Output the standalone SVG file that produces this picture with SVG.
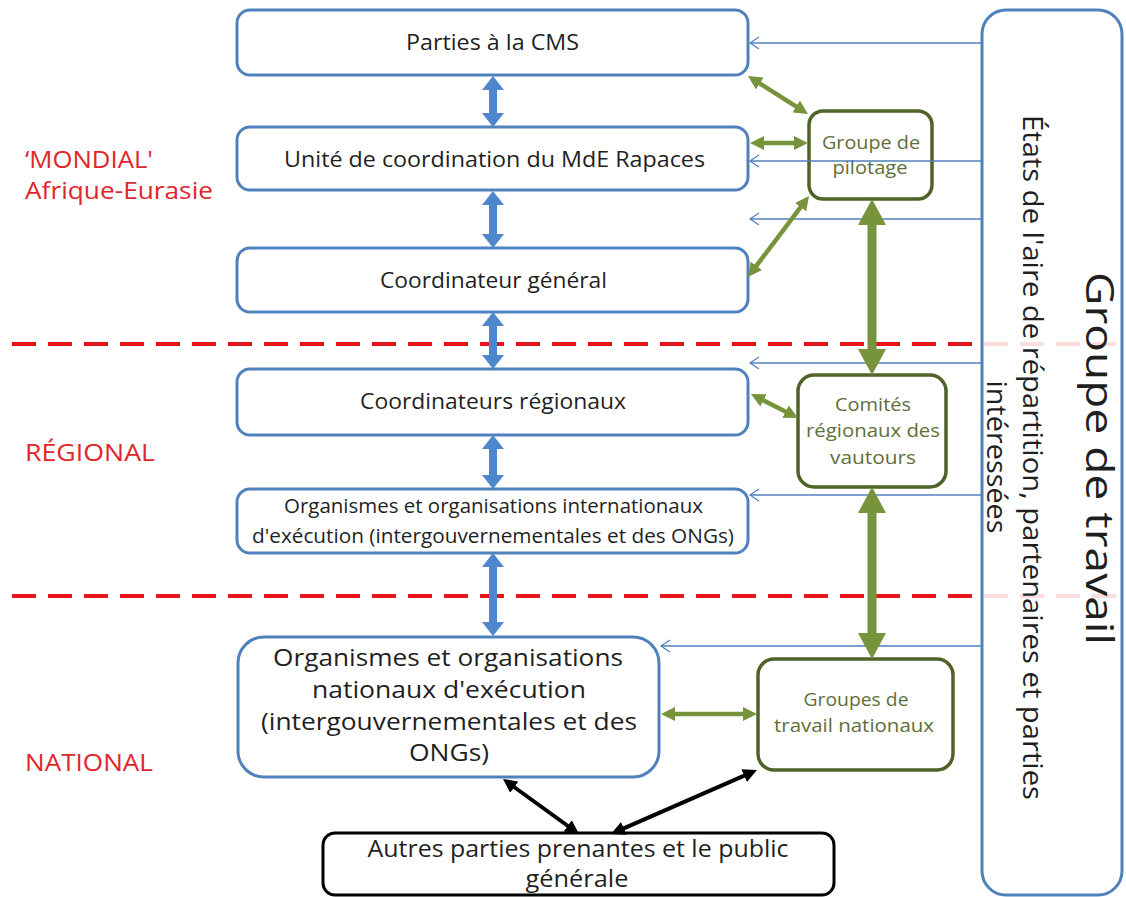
<svg xmlns="http://www.w3.org/2000/svg" width="1126" height="897" viewBox="0 0 1126 897">
<style>
.bx{fill:#fff;stroke:#4f81bd;stroke-width:3}
.gb{fill:#fff;stroke:#4f6228;stroke-width:3.5}
.kb{fill:#fff;stroke:#000;stroke-width:3}
text{font-family:"Open Sans","Liberation Sans",sans-serif}
.t{fill:#1f1f1f}
.gt{fill:#5f6f3a}
.rt{fill:#e0262a}
.thin{stroke:#4f81bd;stroke-width:1.3;fill:none;marker-end:url(#open)}
.ga{stroke:#77933c;stroke-width:4.5;marker-start:url(#gh);marker-end:url(#gh)}
.ka{stroke:#000;stroke-width:4;marker-start:url(#kh);marker-end:url(#kh)}
.ba{fill:#4f87cf}
.gba{fill:#77933c}
.dash{stroke:#e8141b;stroke-width:4;stroke-dasharray:24 12;fill:none}
</style>
<defs>
<marker id="gh" viewBox="0 0 14 14" refX="2" refY="7" markerWidth="14" markerHeight="14" markerUnits="userSpaceOnUse" orient="auto-start-reverse"><path d="M0,0 L14,7 L0,14 z" fill="#77933c"/></marker>
<marker id="kh" viewBox="0 0 14 14" refX="2" refY="7" markerWidth="14" markerHeight="14" markerUnits="userSpaceOnUse" orient="auto-start-reverse"><path d="M0,0 L14,7 L0,14 z" fill="#000"/></marker>
<marker id="open" viewBox="-10 -7 12 14" refX="0" refY="0" markerWidth="12" markerHeight="14" markerUnits="userSpaceOnUse" orient="auto"><path d="M-9,-6 L0,0 L-9,6" fill="none" stroke="#4f81bd" stroke-width="1.2"/></marker>
</defs>

<g id="level-lines">
<line class="dash" x1="12" y1="344" x2="1126" y2="344"/>
<line class="dash" x1="12" y1="596" x2="1126" y2="596"/>
</g>

<g id="groupe-travail">
<rect x="982" y="10" width="140" height="885" rx="24" fill="#fff" fill-opacity="0.86" stroke="#4f81bd" stroke-width="3"/>
<text class="t" transform="translate(1086,458.5) rotate(90)" text-anchor="middle" font-size="38" textLength="373" lengthAdjust="spacingAndGlyphs">Groupe de travail</text>
<text class="t" transform="translate(1023,457.5) rotate(90)" text-anchor="middle" font-size="27" textLength="685" lengthAdjust="spacingAndGlyphs">États de l'aire de répartition, partenaires et parties</text>
<text class="t" transform="translate(987,457) rotate(90)" text-anchor="middle" font-size="27" textLength="153" lengthAdjust="spacingAndGlyphs">intéressées</text>
</g>

<g id="labels">
<text class="rt" x="25" y="168" font-size="24" textLength="128" lengthAdjust="spacingAndGlyphs">‘MONDIAL'</text>
<text class="rt" x="25" y="199" font-size="24" textLength="188" lengthAdjust="spacingAndGlyphs">Afrique-Eurasie</text>
<text class="rt" x="25" y="461" font-size="24" textLength="130" lengthAdjust="spacingAndGlyphs">RÉGIONAL</text>
<text class="rt" x="25" y="771" font-size="24" textLength="128" lengthAdjust="spacingAndGlyphs">NATIONAL</text>
</g>

<g id="parties-cms">
<rect class="bx" x="237" y="10" width="511" height="65" rx="13"/>
<text class="t" x="492.5" y="50" font-size="22" text-anchor="middle" textLength="173" lengthAdjust="spacingAndGlyphs">Parties à la CMS</text>
</g>
<g id="unite-coordination">
<rect class="bx" x="237" y="127" width="511" height="63" rx="13"/>
<text class="t" x="494.5" y="167" font-size="22" text-anchor="middle" textLength="421" lengthAdjust="spacingAndGlyphs">Unité de coordination du MdE Rapaces</text>
</g>
<g id="coordinateur-general">
<rect class="bx" x="237" y="248" width="511" height="64" rx="13"/>
<text class="t" x="493.5" y="288" font-size="22" text-anchor="middle" textLength="227" lengthAdjust="spacingAndGlyphs">Coordinateur général</text>
</g>
<g id="coordinateurs-regionaux">
<rect class="bx" x="237" y="369" width="511" height="66" rx="13"/>
<text class="t" x="493" y="409" font-size="22" text-anchor="middle" textLength="266" lengthAdjust="spacingAndGlyphs">Coordinateurs  régionaux</text>
</g>
<g id="organismes-internationaux">
<rect class="bx" x="237" y="489" width="511" height="64" rx="13"/>
<text class="t" x="493.5" y="513" font-size="20.5" text-anchor="middle" textLength="419" lengthAdjust="spacingAndGlyphs">Organismes et organisations internationaux</text>
<text class="t" x="493" y="543" font-size="20.5" text-anchor="middle" textLength="482" lengthAdjust="spacingAndGlyphs">d'exécution (intergouvernementales et des ONGs)</text>
</g>
<g id="organismes-nationaux">
<rect class="bx" x="238" y="637" width="421" height="140" rx="26"/>
<text class="t" x="448" y="666" font-size="24.5" text-anchor="middle" textLength="350" lengthAdjust="spacingAndGlyphs">Organismes et organisations</text>
<text class="t" x="449" y="698" font-size="24.5" text-anchor="middle" textLength="274" lengthAdjust="spacingAndGlyphs">nationaux d'exécution</text>
<text class="t" x="449" y="730" font-size="24.5" text-anchor="middle" textLength="376" lengthAdjust="spacingAndGlyphs">(intergouvernementales et des</text>
<text class="t" x="449" y="761" font-size="24.5" text-anchor="middle" textLength="80" lengthAdjust="spacingAndGlyphs">ONGs)</text>
</g>
<g id="autres-parties">
<rect class="kb" x="323" y="833" width="511" height="62" rx="12"/>
<text class="t" x="578" y="857" font-size="24" text-anchor="middle" textLength="421" lengthAdjust="spacingAndGlyphs">Autres parties prenantes et le public</text>
<text class="t" x="577" y="887" font-size="24" text-anchor="middle" textLength="103" lengthAdjust="spacingAndGlyphs">générale</text>
</g>

<g id="groupe-pilotage">
<rect class="gb" x="809" y="111" width="123" height="88" rx="14"/>
<text class="gt" x="871" y="149" font-size="19" text-anchor="middle" textLength="98" lengthAdjust="spacingAndGlyphs">Groupe de</text>
<text class="gt" x="870" y="174" font-size="19" text-anchor="middle" textLength="75" lengthAdjust="spacingAndGlyphs">pilotage</text>
</g>
<g id="comites-regionaux">
<rect class="gb" x="798" y="375" width="148" height="112" rx="16"/>
<text class="gt" x="873" y="411" font-size="19" text-anchor="middle" textLength="76" lengthAdjust="spacingAndGlyphs">Comités</text>
<text class="gt" x="873" y="437" font-size="19" text-anchor="middle" textLength="134" lengthAdjust="spacingAndGlyphs">régionaux des</text>
<text class="gt" x="873" y="464" font-size="19" text-anchor="middle" textLength="86" lengthAdjust="spacingAndGlyphs">vautours</text>
</g>
<g id="groupes-nationaux">
<rect class="gb" x="758" y="659" width="195" height="111" rx="16"/>
<text class="gt" x="856" y="706" font-size="19" text-anchor="middle" textLength="105" lengthAdjust="spacingAndGlyphs">Groupes de</text>
<text class="gt" x="854" y="732" font-size="19" text-anchor="middle" textLength="160" lengthAdjust="spacingAndGlyphs">travail nationaux</text>
</g>

<g id="connectors">
<line class="thin" x1="982" y1="43" x2="750" y2="43"/>
<line class="thin" x1="982" y1="161" x2="750" y2="161"/>
<line class="thin" x1="982" y1="219" x2="750" y2="219"/>
<line class="thin" x1="982" y1="363" x2="750" y2="363"/>
<line class="thin" x1="982" y1="495" x2="750" y2="495"/>
<line class="thin" x1="982" y1="646" x2="661" y2="646"/>

<polygon class="ba" points="493,76 504,90 497,90 497,113 504,113 493,127 482,113 489,113 489,90 482,90"/>
<polygon class="ba" points="493,191 504,205 497,205 497,234 504,234 493,248 482,234 489,234 489,205 482,205"/>
<polygon class="ba" points="493,312 504,326 497,326 497,355 504,355 493,369 482,355 489,355 489,326 482,326"/>
<polygon class="ba" points="493,435 504,449 497,449 497,475 504,475 493,489 482,475 489,475 489,449 482,449"/>
<polygon class="ba" points="493,553 504,567 497,567 497,622 504,622 493,636 482,622 489,622 489,567 482,567"/>

<polygon class="gba" points="872,199 886,225 876.5,225 876.5,349 886,349 872,375 858,349 867.5,349 867.5,225 858,225"/>
<polygon class="gba" points="872,487 886,513 876.5,513 876.5,633 886,633 872,659 858,633 867.5,633 867.5,513 858,513"/>

<line class="ga" x1="758.1" y1="82.4" x2="797.9" y2="107.6"/>
<line class="ga" x1="762" y1="143" x2="796" y2="143"/>
<line class="ga" x1="755.2" y1="267.4" x2="801.8" y2="205.6"/>
<line class="ga" x1="761.7" y1="399.5" x2="787.3" y2="412.5"/>
<line class="ga" x1="673" y1="714" x2="745" y2="714"/>

<line class="ka" x1="512.7" y1="786" x2="569.3" y2="827"/>
<line class="ka" x1="746" y1="774.8" x2="622" y2="829.2"/>
</g>
</svg>
